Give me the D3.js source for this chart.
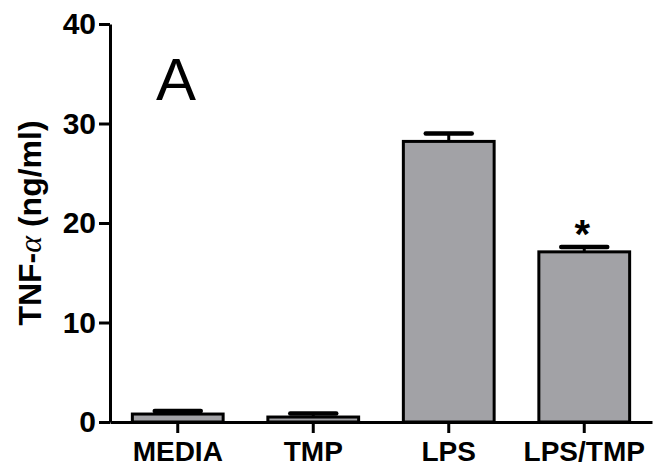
<!DOCTYPE html>
<html>
<head>
<meta charset="utf-8">
<script src="https://cdn.jsdelivr.net/npm/d3@7"></script>
<style>
  body { margin: 0; background: #fff; }
  text { font-family: "Liberation Sans", Arial, sans-serif; }
</style>
</head>
<body>
<div id="chart"></div>
<script>
// values
const categories = ["MEDIA", "TMP", "LPS", "LPS/TMP"];
const means = [0.8, 0.5, 28.2, 17.1];
const sems = [0.3, 0.35, 0.8, 0.5];
const yTicks = [0, 10, 20, 30, 40];
const starred = ["LPS/TMP"];

const width = 653, height = 472;
const x0 = 110, x1 = 652, yTop = 24, yBottom = 422;

const svg = d3.select("#chart").append("svg")
  .attr("width", width)
  .attr("height", height);

const x = d3.scaleBand()
  .domain(categories)
  .range([x0, x1])
  .paddingInner(0.33)
  .paddingOuter(0.165);

const y = d3.scaleLinear()
  .domain([0, 40])
  .range([yBottom, yTop]);

// bars
const bars = svg.append("g");
categories.forEach((c, i) => {
  const cx = x(c) + x.bandwidth() / 2;
  // error bar (upper only)
  bars.append("line")
    .attr("x1", cx).attr("x2", cx)
    .attr("y1", y(means[i])).attr("y2", y(means[i] + sems[i]))
    .attr("stroke", "#000").attr("stroke-width", 3);
  bars.append("rect")
    .attr("x", x(c))
    .attr("y", y(means[i]))
    .attr("width", x.bandwidth())
    .attr("height", y(0) - y(means[i]))
    .attr("fill", "#a2a2a6")
    .attr("stroke", "#000")
    .attr("stroke-width", 3);
  bars.append("line")
    .attr("x1", cx - 23).attr("x2", cx + 23)
    .attr("y1", y(means[i] + sems[i])).attr("y2", y(means[i] + sems[i]))
    .attr("stroke", "#000").attr("stroke-width", 4.5)
    .attr("stroke-linecap", "round");
  if (starred.includes(c)) {
    bars.append("text")
      .attr("x", cx - 2)
      .attr("y", y(means[i] + sems[i]) + 1)
      .attr("text-anchor", "middle")
      .attr("font-size", 40)
      .attr("font-weight", "bold")
      .text("*");
  }
});

// y axis
const yAxis = svg.append("g")
  .attr("transform", `translate(${x0},0)`)
  .call(d3.axisLeft(y).tickValues(yTicks).tickSize(11).tickPadding(3).tickSizeOuter(0));
yAxis.select(".domain").attr("stroke-width", 3);
yAxis.selectAll(".tick line").attr("stroke-width", 3);
yAxis.selectAll(".tick text")
  .attr("font-size", 30)
  .attr("font-weight", "bold")
  .attr("font-family", "Liberation Sans, Arial, sans-serif")
  .attr("fill", "#000");

// x axis
const xAxis = svg.append("g")
  .attr("transform", `translate(0,${yBottom})`)
  .call(d3.axisBottom(x).tickSize(11).tickPadding(8).tickSizeOuter(0));
xAxis.select(".domain").attr("stroke-width", 3);
xAxis.selectAll(".tick line").attr("stroke-width", 3);
xAxis.selectAll(".tick text")
  .attr("font-size", 28)
  .attr("font-weight", "bold")
  .attr("font-family", "Liberation Sans, Arial, sans-serif")
  .attr("fill", "#000");

// y title
const yTitle = svg.append("text")
  .attr("transform", `translate(41,${(yTop + yBottom) / 2}) rotate(-90)`)
  .attr("text-anchor", "middle")
  .attr("font-size", 32)
  .attr("font-weight", "bold");
yTitle.append("tspan").text("TNF-");
yTitle.append("tspan")
  .attr("font-family", "Liberation Serif, serif")
  .attr("font-weight", "normal")
  .attr("font-style", "italic")
  .text("α");
yTitle.append("tspan").text(" (ng/ml)");

// panel letter
svg.append("text")
  .attr("x", 156)
  .attr("y", 100)
  .attr("font-size", 60)
  .text("A");
</script>
</body>
</html>
